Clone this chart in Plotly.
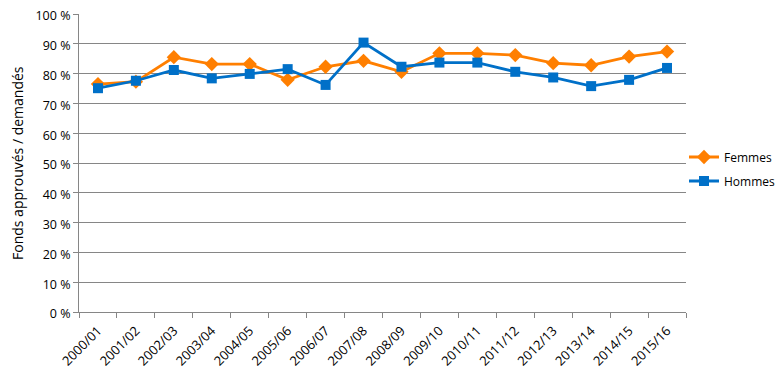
import plotly.graph_objects as go

categories = ["2000/01", "2001/02", "2002/03", "2003/04", "2004/05", "2005/06", "2006/07", "2007/08",
              "2008/09", "2009/10", "2010/11", "2011/12", "2012/13", "2013/14", "2014/15", "2015/16"]
femmes = [76.5, 77.3, 85.5, 83.2, 83.2, 77.9, 82.3, 84.3, 80.6, 86.8, 86.8, 86.2, 83.5, 82.8, 85.7, 87.4]
hommes = [75.1, 77.6, 81.2, 78.4, 79.9, 81.5, 76.2, 90.4, 82.3, 83.7, 83.7, 80.6, 78.7, 75.8, 77.9, 81.9]
y_title = "Fonds approuvés / demandés"

ORANGE = "#FF7F00"
BLUE = "#0070C8"
FONT = "Open Sans"

# page body has an 8px margin, so the figure is shrunk/offset to land on the reference pixels
W, H = 775, 368
L, T, PW, PH = 71, 6, 607, 298

fig = go.Figure()
fig.add_trace(go.Scatter(x=categories, y=femmes, name="Femmes", mode="lines+markers",
                         line=dict(color=ORANGE, width=2.8),
                         marker=dict(symbol="diamond", size=11, color=ORANGE),
                         legendgroup="f"))
fig.add_trace(go.Scatter(x=categories, y=hommes, name="Hommes", mode="lines+markers",
                         line=dict(color=BLUE, width=2.8),
                         marker=dict(symbol="square", size=10, color=BLUE),
                         legendgroup="h"))

fig.update_layout(
    width=W, height=H,
    margin=dict(l=L, r=W - L - PW, t=T, b=H - T - PH, autoexpand=False),
    paper_bgcolor="white", plot_bgcolor="white",
    font=dict(family=FONT, size=12, color="#000000"),
    legend=dict(x=(676 - L) / PW, y=1 - (161 - T) / PH, xanchor="left", yanchor="middle",
                font=dict(family=FONT, size=12), bgcolor="rgba(0,0,0,0)",
                itemwidth=30, tracegroupgap=5),
    xaxis=dict(type="category", range=[-0.5, len(categories) - 0.5],
               tickangle=-45, showgrid=False, automargin=False,
               showline=True, linecolor="#868686", linewidth=1,
               ticks="outside", tickson="boundaries", ticklen=5, tickcolor="#868686",
               tickfont=dict(family=FONT, size=13), ticklabelstandoff=5,
               ticklabeloverflow="allow"),
    yaxis=dict(range=[0, 100], dtick=10, ticksuffix=" %", automargin=False,
               showgrid=True, gridcolor="#868686", gridwidth=1,
               showline=True, linecolor="#868686", linewidth=1,
               ticks="outside", ticklen=5, tickcolor="#868686",
               tickfont=dict(family=FONT, size=12.5), ticklabelshift=2,
               ticklabeloverflow="allow", zeroline=False),
    annotations=[dict(text=y_title, x=(9 - L) / PW, y=0.5, xref="paper", yref="paper",
                      xanchor="center", yanchor="middle",
                      showarrow=False, textangle=-90, font=dict(family=FONT, size=14))],
)

fig.write_html("out.html")
